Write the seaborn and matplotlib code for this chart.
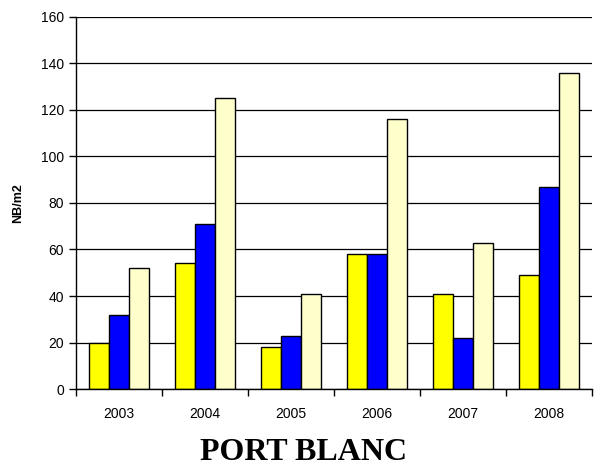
import numpy as np
import pandas as pd
import matplotlib
matplotlib.use("Agg")
import matplotlib.pyplot as plt
import seaborn as sns

# Données
annees = ["2003", "2004", "2005", "2006", "2007", "2008"]
series = ["Série 1", "Série 2", "Série 3"]
serie_jaune = [20, 54, 18, 58, 41, 49]
serie_bleue = [32, 71, 23, 58, 22, 87]
serie_creme = [52, 125, 41, 116, 63, 136]
couleurs = ["#FFFF00", "#0000FF", "#FFFFCC"]

df = pd.DataFrame({
    "annee": annees * 3,
    "serie": [series[0]] * 6 + [series[1]] * 6 + [series[2]] * 6,
    "valeur": serie_jaune + serie_bleue + serie_creme,
})

sns.set_style("white")
plt.rcParams["font.family"] = ["Liberation Sans", "DejaVu Sans"]
plt.rcParams["text.color"] = "black"
plt.rcParams["axes.labelcolor"] = "black"
plt.rcParams["xtick.color"] = "black"
plt.rcParams["ytick.color"] = "black"

fig = plt.figure(figsize=(6.03, 4.66), dpi=100)
ax = fig.add_axes([0.126, 0.165, 0.856, 0.799])

sns.barplot(
    data=df, x="annee", y="valeur", hue="serie",
    palette=couleurs, saturation=1, width=0.7, edgecolor="black", linewidth=1,
    legend=False, ax=ax, errorbar=None,
)

ax.set_ylim(0, 160)
ax.set_yticks(np.arange(0, 161, 20))
ax.set_xlim(-0.5, len(annees) - 0.5)
ax.yaxis.grid(True, color="black", linewidth=0.9)
ax.set_axisbelow(True)

for s in ["top", "right"]:
    ax.spines[s].set_visible(False)
for s in ["left", "bottom"]:
    ax.spines[s].set_color("black")
    ax.spines[s].set_linewidth(1)

# ticks de l'axe x entre les catégories
ax.set_xticks(np.arange(-0.5, len(annees), 1), minor=True)
ax.tick_params(axis="x", which="major", length=0, labelsize=10, pad=13)
ax.tick_params(axis="x", which="minor", length=5, width=1, direction="out", bottom=True)
ax.tick_params(axis="y", length=5, width=1, direction="out", left=True, labelsize=10)

ax.set_xlabel("")
ax.set_ylabel("NB/m2", fontsize=9, fontweight="bold", labelpad=12)

fig.text(0.503, 0.013, "PORT BLANC", ha="center", va="baseline",
         fontsize=23, fontweight="bold", family=["Liberation Serif", "DejaVu Serif"])

fig.savefig("out.png", dpi=100)
plt.close()
